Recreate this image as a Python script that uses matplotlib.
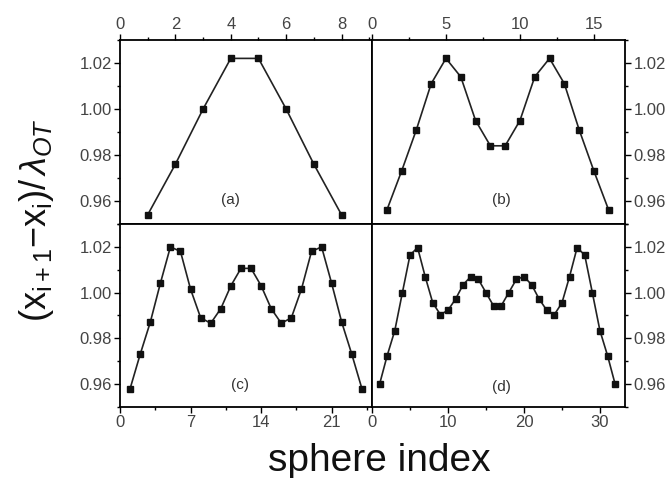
import matplotlib
matplotlib.use("Agg")
import matplotlib.pyplot as plt
from matplotlib.ticker import MultipleLocator, FixedLocator

plt.rcParams['font.family'] = ['Liberation Sans', 'DejaVu Sans']
plt.rcParams['mathtext.fontset'] = 'custom'
plt.rcParams['mathtext.rm'] = 'Liberation Sans'
plt.rcParams['mathtext.it'] = 'Liberation Sans:italic'

# ---- data ----
ya = [0.954, 0.976, 1.000, 1.022, 1.022, 1.000, 0.976, 0.954]
yb = [0.956, 0.973, 0.991, 1.011, 1.022, 1.014, 0.995, 0.984,
      0.984, 0.995, 1.014, 1.022, 1.011, 0.991, 0.973, 0.956]
yc = [0.958, 0.973, 0.987, 1.004, 1.020, 1.018, 1.0015, 0.989, 0.9866, 0.993,
      1.003, 1.0106, 1.0106, 1.003, 0.993, 0.9866, 0.989, 1.0015, 1.018, 1.020,
      1.004, 0.987, 0.973, 0.958]
yd = [0.960, 0.9725, 0.9834, 1.000, 1.0164, 1.0197, 1.0070, 0.9955, 0.9904, 0.9923,
      0.9972, 1.0035, 1.0070, 1.0058, 1.000, 0.9942, 0.9942, 1.000, 1.0058, 1.0070,
      1.0035, 0.9972, 0.9923, 0.9904, 0.9955, 1.0070, 1.0197, 1.0164, 1.000, 0.9834,
      0.9725, 0.960]
panel_labels = ['(a)', '(b)', '(c)', '(d)']
xticks_a = [0, 2, 4, 6, 8]
xticks_b = [0, 5, 10, 15]
xticks_c = [0, 7, 14, 21]
xticks_d = [0, 10, 20, 30]
yticks = [0.96, 0.98, 1.00, 1.02]

fig = plt.figure(figsize=(6.68, 4.78), dpi=100)
W, H = 668, 478
def rect(x0, y0, x1, y1):
    return [x0 / W, 1 - y1 / H, (x1 - x0) / W, (y1 - y0) / H]

axa = fig.add_axes(rect(120, 40, 372, 224))
axb = fig.add_axes(rect(372, 40, 625, 224))
axc = fig.add_axes(rect(120, 224, 372, 407))
axd = fig.add_axes(rect(372, 224, 625, 407))

specs = [
    (axa, ya, xticks_a, 1, 9.1, 'top', 'left', (0.437, 0.13)),
    (axb, yb, xticks_b, 2.5, 17.1, 'top', 'right', (0.513, 0.13)),
    (axc, yc, xticks_c, 3.5, 25.0, 'bottom', 'left', (0.476, 0.12)),
    (axd, yd, xticks_d, 5, 33.3, 'bottom', 'right', (0.513, 0.11)),
]
tc = '#444444'
for (ax, y, xt, minor, xmax, xside, yside, lp), lab in zip(specs, panel_labels):
    x = list(range(1, len(y) + 1))
    ax.plot(x, y, '-', color='#222222', lw=1.2, marker='s', ms=3.8,
            mfc='#111111', mec='#111111')
    ax.set_xlim(0, xmax)
    ax.set_ylim(0.95, 1.03)
    ax.xaxis.set_major_locator(FixedLocator(xt))
    ax.xaxis.set_minor_locator(MultipleLocator(minor))
    ax.yaxis.set_major_locator(FixedLocator(yticks))
    ax.yaxis.set_minor_locator(MultipleLocator(0.01))
    ax.set_yticklabels(['%.2f' % v for v in yticks])
    ax.xaxis.set_ticks_position(xside)
    ax.yaxis.set_ticks_position(yside)
    ax.xaxis.set_label_position(xside)
    ax.yaxis.set_label_position(yside)
    ax.tick_params(which='major', direction='out', length=4, width=1,
                   labelsize=12, labelcolor=tc, pad=2)
    ax.tick_params(which='minor', direction='out', length=2.5, width=1)
    for s in ax.spines.values():
        s.set_linewidth(1.3)
    ax.text(lp[0], lp[1], lab, transform=ax.transAxes, fontsize=11,
            color='#333333', ha='center', va='center')

fig.text(0.055, 0.54, r'$(\mathregular{x}_{\mathregular{i+1}}\mathregular{-x}_{\mathregular{i}})/\,\lambda_{OT}$',
         rotation=90, fontsize=26, ha='center', va='center', color='#111111')
fig.text(379 / W, 1 - 461 / H, 'sphere index', fontsize=28, ha='center',
         va='center', color='#111111')

fig.savefig('out.png', dpi=100)
